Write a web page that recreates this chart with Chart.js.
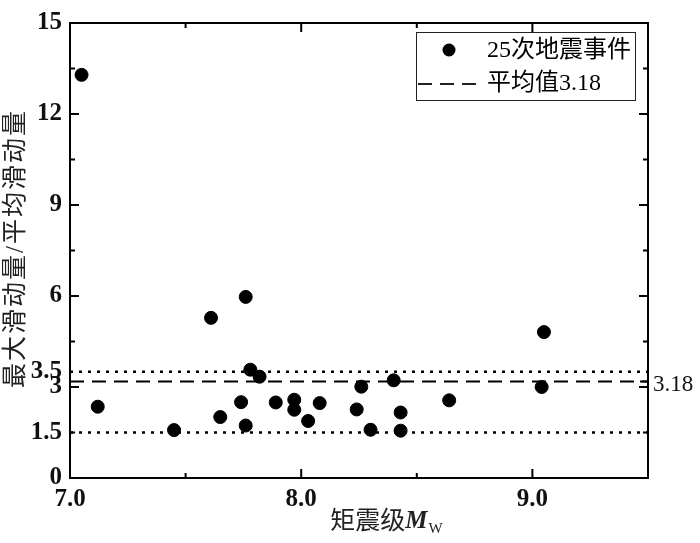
<!DOCTYPE html>
<html>
<head>
<meta charset="utf-8">
<script src="https://cdn.jsdelivr.net/npm/chart.js@4.4.0/dist/chart.umd.min.js"></script>
<style>
  html, body { margin: 0; padding: 0; background: #fff; }
  #wrap { width: 700px; height: 543px; }
</style>
</head>
<body>
<div id="wrap"><canvas id="chart"></canvas></div>
<script>
// magnitude Mw and max/mean slip ratio
const mw    = [7.05, 7.12, 7.45, 7.61, 7.65, 7.74, 7.76, 7.76, 7.78, 7.82, 7.89, 7.97, 7.97, 8.03, 8.08, 8.24, 8.26, 8.30, 8.40, 8.43, 8.43, 8.64, 9.04, 9.05];
const ratio = [13.29, 2.35, 1.58, 5.28, 2.01, 2.50, 5.97, 1.73, 3.57, 3.34, 2.49, 2.58, 2.25, 1.88, 2.47, 2.26, 3.01, 1.59, 3.22, 2.16, 1.56, 2.56, 3.00, 4.81];
const meanValue = 3.18;
const bounds = [1.5, 3.5];
const xTicks = [7, 8, 9];
const yTicks = [0, 1.5, 3, 3.5, 6, 9, 12, 15];
const xRange = [7, 9.5];
const yRange = [0, 15];

const serif = "'Liberation Serif', 'Times New Roman', serif";
const cjk = "'Liberation Serif', 'Noto Sans CJK SC', serif";

const points = mw.map((m, i) => ({ x: m, y: ratio[i] }));
function hline(v) {
  return [{ x: xRange[0], y: v }, { x: xRange[1], y: v }];
}

const decor = {
  id: 'decor',
  afterDraw(chart) {
    const ctx = chart.ctx;
    const a = chart.chartArea;
    const xs = chart.scales.x, ys = chart.scales.y;
    ctx.save();
    ctx.strokeStyle = '#000';
    ctx.lineWidth = 2;
    ctx.strokeRect(a.left, a.top, a.right - a.left, a.bottom - a.top);

    // inward ticks on all four sides
    ctx.beginPath();
    for (let v = yRange[0]; v <= yRange[1] + 1e-9; v += 1.5) {
      const y = ys.getPixelForValue(v);
      const len = (Math.abs(v % 3) < 1e-9) ? 9 : 5;
      ctx.moveTo(a.left, y); ctx.lineTo(a.left + len, y);
      ctx.moveTo(a.right, y); ctx.lineTo(a.right - len, y);
    }
    const ym = ys.getPixelForValue(meanValue);
    ctx.moveTo(a.right, ym); ctx.lineTo(a.right - 8, ym);
    for (let v = xRange[0]; v <= xRange[1] + 1e-9; v += 0.5) {
      const x = xs.getPixelForValue(v);
      const len = (Math.abs(v % 1) < 1e-9) ? 9 : 5;
      ctx.moveTo(x, a.bottom); ctx.lineTo(x, a.bottom - len);
      ctx.moveTo(x, a.top); ctx.lineTo(x, a.top + len);
    }
    ctx.stroke();

    // mean label right of the frame
    ctx.fillStyle = '#111';
    ctx.font = '23px ' + serif;
    ctx.textAlign = 'left';
    ctx.textBaseline = 'middle';
    ctx.fillText(meanValue.toFixed(2), a.right + 5, ym + 3);

    // legend box inside plot
    const lx = 416, ly = 32, lw = 219, lh = 68;
    ctx.fillStyle = '#fff';
    ctx.fillRect(lx, ly, lw, lh);
    ctx.lineWidth = 1;
    ctx.strokeStyle = '#222';
    ctx.strokeRect(lx + 0.5, ly + 0.5, lw, lh);
    ctx.fillStyle = '#000';
    ctx.beginPath();
    ctx.arc(449, 50, 6.5, 0, Math.PI * 2);
    ctx.fill();
    ctx.lineWidth = 2;
    ctx.setLineDash([14, 8]);
    ctx.beginPath();
    ctx.moveTo(418, 84); ctx.lineTo(480, 84);
    ctx.stroke();
    ctx.setLineDash([]);
    ctx.font = '24px ' + cjk;
    ctx.fillText('25次地震事件', 487, 51);
    ctx.fillText('平均值3.18', 487, 84);

    // x title with subscript
    ctx.fillStyle = '#222';
    ctx.font = '25px ' + cjk;
    const t1 = '矩震级';
    const w1 = ctx.measureText(t1).width;
    ctx.font = 'italic bold 25px ' + serif;
    const w2 = ctx.measureText('M').width;
    ctx.font = '15px ' + serif;
    const w3 = ctx.measureText('W').width;
    let x0 = 386 - (w1 + w2 + w3) / 2;
    ctx.font = '25px ' + cjk;
    ctx.fillText(t1, x0, 522);
    ctx.font = 'italic bold 25px ' + serif;
    ctx.fillText('M', x0 + w1, 522);
    ctx.font = '15px ' + serif;
    ctx.fillText('W', x0 + w1 + w2 + 1, 529);

    // y title rotated
    ctx.translate(16, (a.top + a.bottom) / 2 - 2);
    ctx.rotate(-Math.PI / 2);
    ctx.textAlign = 'center';
    ctx.font = '25px ' + cjk;
    ctx.letterSpacing = '2px';
    ctx.fillText('最大滑动量/平均滑动量', 0, 0);
    ctx.restore();
  }
};

new Chart(document.getElementById('chart'), {
  type: 'scatter',
  data: {
    datasets: [
      {
        label: '25次地震事件',
        data: points,
        backgroundColor: '#000',
        borderColor: '#000',
        pointRadius: 6.5,
        pointHoverRadius: 6.5,
        order: 0
      },
      {
        type: 'line',
        label: '平均值3.18',
        data: hline(meanValue),
        borderColor: '#000',
        borderWidth: 2,
        borderDash: [14, 8],
        pointRadius: 0,
        order: 1
      },
      {
        type: 'line',
        label: 'upper',
        data: hline(bounds[1]),
        borderColor: '#000',
        borderWidth: 2.5,
        borderDash: [3, 6],
        pointRadius: 0,
        order: 2
      },
      {
        type: 'line',
        label: 'lower',
        data: hline(bounds[0]),
        borderColor: '#000',
        borderWidth: 2.5,
        borderDash: [3, 6],
        pointRadius: 0,
        order: 2
      }
    ]
  },
  options: {
    responsive: true,
    maintainAspectRatio: false,
    animation: false,
    layout: { padding: { top: 14, right: 52, left: 0, bottom: 0 } },
    plugins: {
      legend: { display: false },
      tooltip: { enabled: false }
    },
    scales: {
      x: {
        type: 'linear',
        min: xRange[0],
        max: xRange[1],
        afterBuildTicks: s => { s.ticks = xTicks.map(v => ({ value: v })); },
        afterFit: s => { s.height = 65; },
        grid: { display: false, drawTicks: false },
        border: { display: false },
        ticks: {
          autoSkip: false,
          maxRotation: 0,
          padding: 7,
          color: '#111',
          font: { family: serif, size: 25, weight: 'bold' },
          callback: v => Number(v).toFixed(1)
        }
      },
      y: {
        type: 'linear',
        min: yRange[0],
        max: yRange[1],
        afterBuildTicks: s => { s.ticks = yTicks.map(v => ({ value: v })); },
        afterFit: s => { s.width = 70; },
        grid: { display: false, drawTicks: false },
        border: { display: false },
        ticks: {
          autoSkip: false,
          padding: 8,
          color: '#111',
          font: { family: serif, size: 25, weight: 'bold' },
          callback: v => String(v)
        }
      }
    }
  },
  plugins: [decor]
});
</script>
</body>
</html>
